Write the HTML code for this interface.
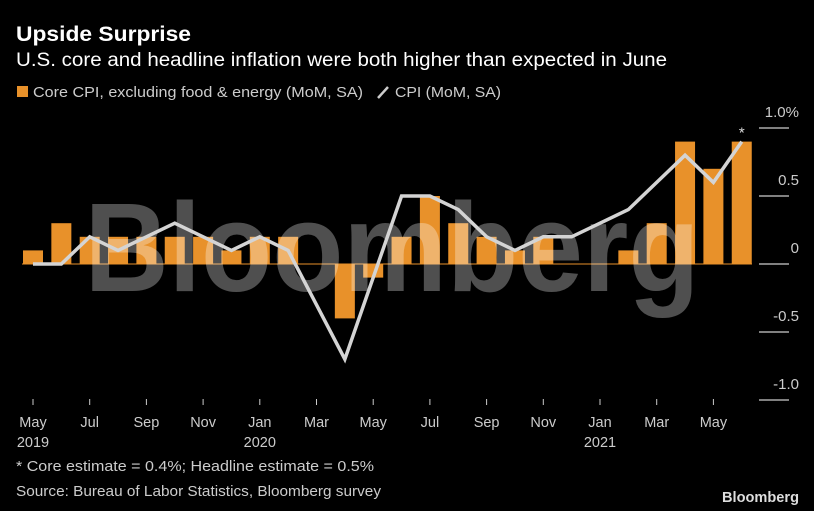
<!DOCTYPE html>
<html><head><meta charset="utf-8"><style>
html,body{margin:0;padding:0;background:#000;}
svg{display:block;font-family:"Liberation Sans",sans-serif;}
</style></head><body>
<svg id="chart" width="814" height="511" viewBox="0 0 814 511">
<rect width="814" height="511" fill="#000"/>
<text x="16" y="41" fill="#fff" font-size="21" font-weight="bold" textLength="175" lengthAdjust="spacingAndGlyphs">Upside Surprise</text>
<text x="16" y="66" fill="#fff" font-size="19" textLength="651" lengthAdjust="spacingAndGlyphs">U.S. core and headline inflation were both higher than expected in June</text>
<g>
<rect x="17" y="86" width="11" height="11" fill="#e8912a"/>
<text x="33" y="97" fill="#ccc" font-size="14.5" textLength="330" lengthAdjust="spacingAndGlyphs">Core CPI, excluding food &amp; energy (MoM, SA)</text>
<line x1="378" y1="98" x2="388" y2="87" stroke="#ccc" stroke-width="2.5"/>
<text x="395" y="97" fill="#ccc" font-size="14.5" textLength="106" lengthAdjust="spacingAndGlyphs">CPI (MoM, SA)</text>
</g>
<g id="grid"></g>
<g id="bars"></g>
<text x="392" y="291" fill="#fff" fill-opacity="0.31" font-size="126" font-weight="bold" text-anchor="middle" textLength="615" lengthAdjust="spacingAndGlyphs">Bloomberg</text>
<g id="line"></g>
<g id="xaxis"></g>
<text x="16" y="471" fill="#ccc" font-size="14.5" textLength="358" lengthAdjust="spacingAndGlyphs">* Core estimate = 0.4%; Headline estimate = 0.5%</text>
<text x="16" y="496" fill="#ccc" font-size="14.5" textLength="365" lengthAdjust="spacingAndGlyphs">Source: Bureau of Labor Statistics, Bloomberg survey</text>
<text x="799" y="502" fill="#ddd" font-size="15" font-weight="bold" text-anchor="end" textLength="77" lengthAdjust="spacingAndGlyphs">Bloomberg</text>
</svg>
<script>
const months = ["May19","Jun19","Jul19","Aug19","Sep19","Oct19","Nov19","Dec19","Jan20","Feb20","Mar20","Apr20","May20","Jun20","Jul20","Aug20","Sep20","Oct20","Nov20","Dec20","Jan21","Feb21","Mar21","Apr21","May21","Jun21"];
const coreValues = [0.1,0.3,0.2,0.2,0.2,0.2,0.2,0.1,0.2,0.2,0.0,-0.4,-0.1,0.2,0.5,0.3,0.2,0.1,0.2,0.0,0.0,0.1,0.3,0.9,0.7,0.9];
const cpiValues = [0.0,0.0,0.2,0.1,0.2,0.3,0.2,0.1,0.2,0.1,-0.3,-0.7,-0.1,0.5,0.5,0.4,0.2,0.1,0.2,0.2,0.3,0.4,0.6,0.8,0.6,0.9];
const yTicks = [1.0,0.5,0,-0.5,-1.0];
const yTickLabels = ["1.0%","0.5","0","-0.5","-1.0"];
const xTickLabels = ["May","Jul","Sep","Nov","Jan","Mar","May","Jul","Sep","Nov","Jan","Mar","May"];
const xYearLabels = {0:"2019",4:"2020",10:"2021"};

const NS="http://www.w3.org/2000/svg";
const x = i => 33 + i*28.35;
const y = v => 264 - v*136;
function mk(tag, attrs, parent){const e=document.createElementNS(NS,tag);for(const k in attrs)e.setAttribute(k,attrs[k]);parent.appendChild(e);return e;}

const grid=document.getElementById('grid');
yTicks.forEach((t,i)=>{
  const l=mk('line',{x1:759,x2:789,y1:y(t),y2:y(t),stroke:'#ccc','stroke-width':1.2},grid);
  
  
  const tx=mk('text',{x:799,y:y(t)-11,fill:'#ccc','font-size':15,'text-anchor':'end'},grid);
  tx.textContent=yTickLabels[i];
  
  
});
const zl=mk('line',{x1:22,x2:752,y1:y(0),y2:y(0),stroke:'#e8912a','stroke-width':1},grid);



const bars=document.getElementById('bars');
coreValues.forEach((v,i)=>{
  const r=mk('rect',{x:x(i)-10,width:20,y:Math.min(y(v),y(0)),height:Math.abs(y(v)-y(0)),fill:'#e8912a'},bars);
  
  
});

const lg=document.getElementById('line');
const pts=cpiValues.map((v,i)=>x(i)+','+y(v)).join(' ');
const pl=mk('polyline',{points:pts,fill:'none',stroke:'#d4d4d4','stroke-width':3.5,'stroke-linejoin':'miter'},lg);


const last=cpiValues.length-1;
const st=mk('text',{x:x(last),y:y(cpiValues[last])-4,fill:'#ddd','font-size':15,'text-anchor':'middle'},lg);
st.textContent='*';



const xa=document.getElementById('xaxis');
xTickLabels.forEach((lab,k)=>{
  const i=k*2;
  const t=mk('line',{x1:x(i),x2:x(i),y1:399,y2:405,stroke:'#ccc','stroke-width':1},xa);
  
  
  const tx=mk('text',{x:x(i),y:427,fill:'#ccc','font-size':14.5,'text-anchor':'middle'},xa);
  tx.textContent=lab;
  
  
  if(xYearLabels[k]){
    const yr=mk('text',{x:x(i),y:447,fill:'#ccc','font-size':14.5,'text-anchor':'middle'},xa);
    yr.textContent=xYearLabels[k];
    
    
  }
});
</script>
</body></html>
